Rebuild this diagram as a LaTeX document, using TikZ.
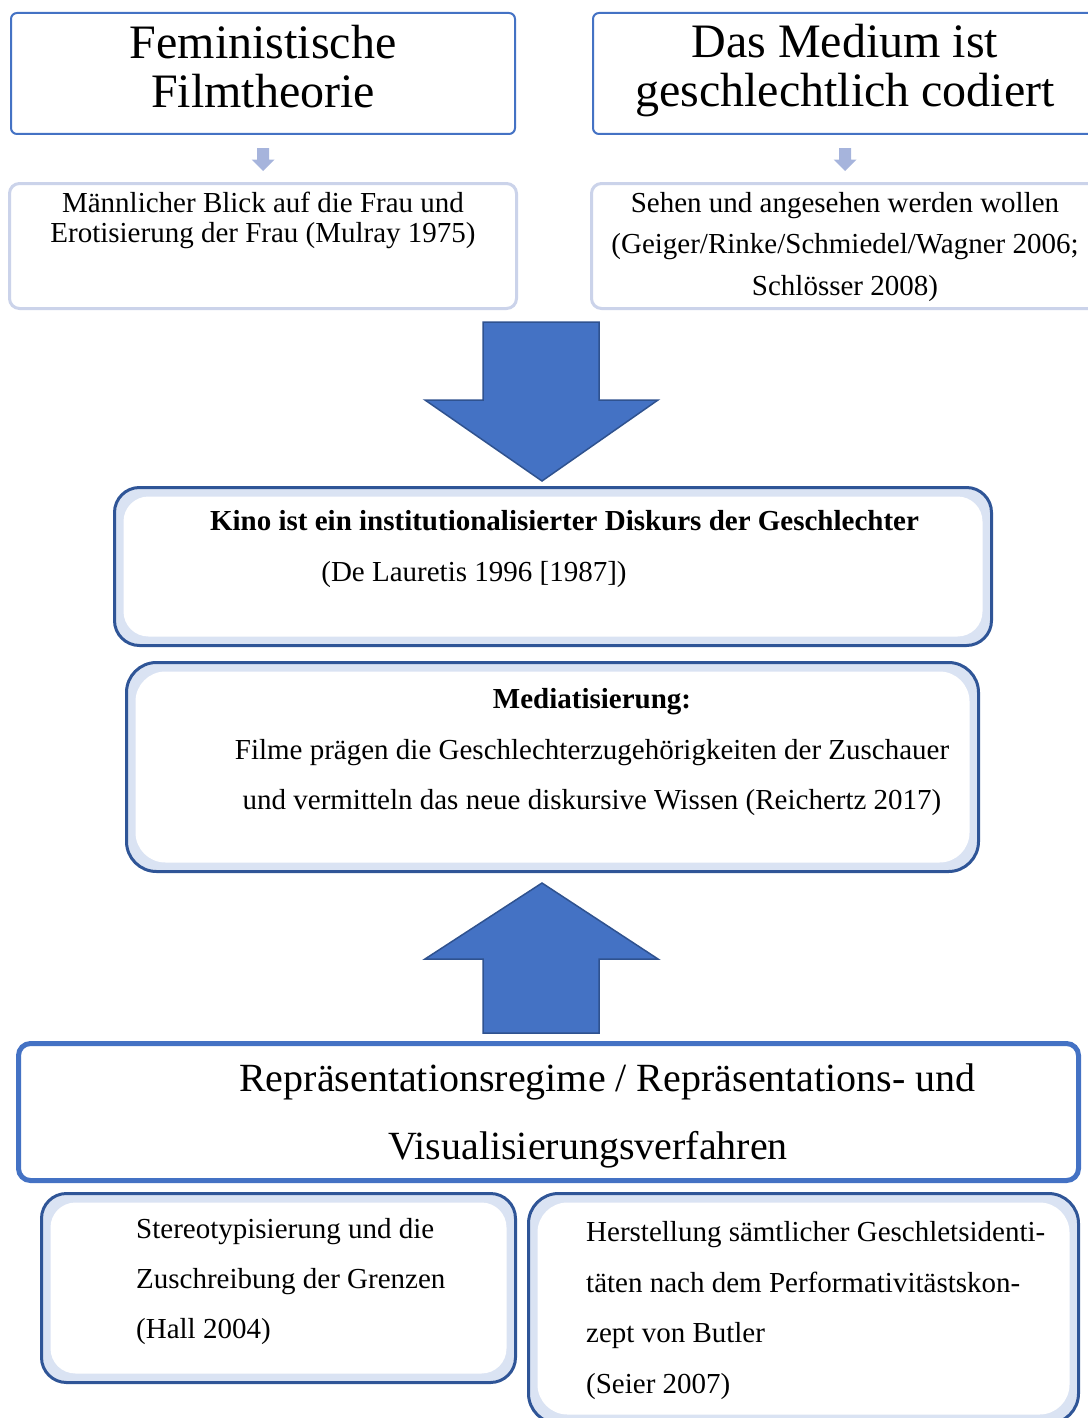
\documentclass[tikz,border=0pt]{standalone}
\usepackage{fontspec}
\setmainfont{Liberation Serif}
\usetikzlibrary{calc}
\definecolor{accblue}{HTML}{4472C4}
\definecolor{deepblue}{HTML}{2F5597}
\definecolor{arrline}{HTML}{2F528F}
\definecolor{bandfill}{HTML}{DAE3F3}
\definecolor{palerim}{HTML}{CBD3EA}
\definecolor{pointer}{HTML}{A6B4DC}
\tikzset{
  headbox/.style={draw=accblue, line width=2pt, rounded corners=6pt, fill=white,
                  minimum width=504pt, minimum height=121pt, inner sep=0pt},
  subbox/.style={draw=palerim, line width=3pt, rounded corners=10pt, fill=white,
                 minimum width=507pt, minimum height=125pt, inner sep=0pt},
  bandbox/.style={draw=deepblue, line width=3pt, rounded corners=#1, fill=bandfill, inner sep=0pt,
      path picture={\fill[white] ([shift={(9pt,9pt)}]path picture bounding box.south west)
                    rectangle ([shift={(-9pt,-9pt)}]path picture bounding box.north east);}},
  bandbox/.default=25pt,
  reprbox/.style={draw=accblue, line width=5pt, rounded corners=12pt, fill=white, inner sep=0pt},
  blockarr/.style={fill=accblue, draw=arrline, line width=1.5pt, line join=miter},
  smallarr/.style={fill=pointer},
  headtxt/.style={font=\fontsize{48}{49}\selectfont, align=center, inner sep=0pt, anchor=base},
  bodytxt/.style={font=\fontsize{29}{#1}\selectfont, inner sep=0pt, anchor=base},
  bodytxt/.default=35,
}
\begin{document}
\begin{tikzpicture}[x=1pt, y=-1pt]
  \useasboundingbox (0,0) rectangle (1087,1418);
  % top row (multi-line texts sit on their last baseline)
  \node[headbox] (fem) at (263,73.5) {};
  \node[headbox] (med) at (845,73.5) {};
  \node[headtxt] (femtxt) at (263,107.3) {Feministische\\Filmtheorie};
  \node[headtxt] (medtxt) at (845,107) {Das Medium ist\\geschlechtlich codiert};
  \foreach \n in {fem,med}
    \fill[smallarr] ($(\n.south)+(-6,13)$) -- ++(12,0) -- ++(0,11.5) -- ++(5.5,0)
      -- ++(-11.5,11.5) -- ++(-11.5,-11.5) -- ++(5.5,0) -- cycle;
  \node[subbox] (blick) at (263,246) {};
  \node[subbox] (sehen) at (845,246) {};
  \node[bodytxt=30.5, align=center] (blicktxt) at (263,242.5)
    {Männlicher Blick auf die Frau und\\Erotisierung der Frau (Mulray 1975)};
  \node[bodytxt=41.5, align=center] (sehentxt) at (845,295)
    {Sehen und angesehen werden wollen\\(Geiger/Rinke/Schmiedel/Wagner 2006;\\Schlösser 2008)};
  % middle
  \node[bandbox] (kino) at (553,566.5) [minimum width=877pt, minimum height=158pt] {};
  \node[bodytxt, font=\fontsize{29}{35}\selectfont\bfseries] (kinotxt) at (564.5,530.7)
    {Kino ist ein institutionalisierter Diskurs der Geschlechter};
  \node[bodytxt] (kinoref) at (474,581.7) {(De Lauretis 1996 [1987])};
  \draw[blockarr] ($(kino.north)+(-11,-5)$) -- ++(-117,-81) -- ++(58,0) -- ++(0,-78)
    -- ++(116,0) -- ++(0,78) -- ++(59,0) -- cycle;
  \node[bandbox=30pt] (medi) at (552.5,767) [minimum width=852pt, minimum height=209pt] {};
  \node[bodytxt=50.8, align=center] (meditxt) at (592,809.9)
    {\textbf{Mediatisierung:}\\Filme prägen die Geschlechterzugehörigkeiten der Zuschauer\\und vermitteln das neue diskursive Wissen (Reichertz 2017)};
  % bottom
  \node[reprbox] (repr) at (548.5,1112) [minimum width=1060pt, minimum height=137pt] {};
  \node[bodytxt, font=\fontsize{40}{68}\selectfont, align=center] (reprtxt) at (588,1159.7)
    {\hspace*{39pt}Repräsentationsregime / Repräsentations- und\\Visualisierungsverfahren};
  \draw[blockarr] ($(medi.south)+(-10.5,10)$) -- ++(-117,76) -- ++(58,0) -- ++(0,74)
    -- ++(116,0) -- ++(0,-74) -- ++(59,0) -- cycle;
  \node[bandbox] (stereo) at (278.5,1288) [minimum width=474pt, minimum height=189pt] {};
  \node[bodytxt=50, align=left, anchor=base west] (stereotxt) at (136,1338)
    {Stereotypisierung und die\\Zuschreibung der Grenzen\\(Hall 2004)};
  \node[bandbox=30pt] (herst) at (803.5,1308.5) [minimum width=550pt, minimum height=230pt] {};
  \node[bodytxt=50.5, align=left, anchor=base west] (hersttxt) at (586,1393.2)
    {Herstellung sämtlicher Geschletsidenti-\\täten nach dem Performativitästskon-\\zept von Butler\\(Seier 2007)};
\end{tikzpicture}
\end{document}
